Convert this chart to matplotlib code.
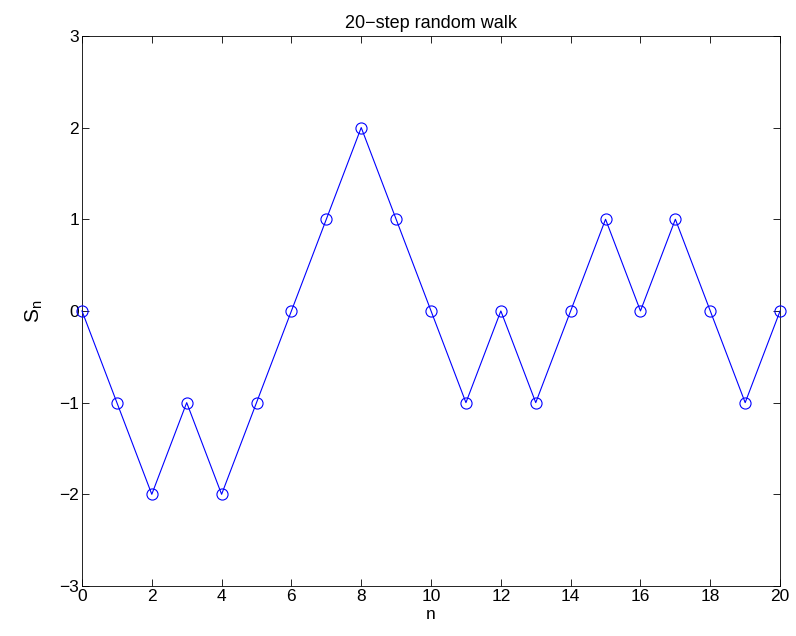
import numpy as np
import matplotlib
matplotlib.use('Agg')
from matplotlib import pyplot as plt

n = list(range(21))
s = [0, -1, -2, -1, -2, -1, 0, 1, 2, 1, 0, -1, 0, -1, 0, 1, 0, 1, 0, -1, 0]
xticks = list(range(0, 21, 2))
yticks = [-3, -2, -1, 0, 1, 2, 3]

plt.rcParams['font.family'] = ['Liberation Sans', 'DejaVu Sans']
fs = 12.5

fig = plt.figure(figsize=(7.96, 6.36), dpi=100)
ax = fig.add_axes([0.103, 0.0786, 0.877, 0.865])
ax.plot(n, s, color='#0000ff', lw=0.8, marker='o', ms=8, mfc='none',
        mec='#0000ff', mew=0.8, clip_on=False, zorder=3)
ax.set_xlim(0, 20)
ax.set_ylim(-3, 3)
ax.set_xticks(xticks)
ax.set_yticks(yticks)
ax.tick_params(direction='in', top=True, right=True, labelsize=fs, length=5, width=0.6, pad=2)
for sp in ax.spines.values():
    sp.set_linewidth(0.6)
ax.set_xlabel('n', fontsize=fs, labelpad=2)
ax.set_ylabel('S$_\\mathregular{n}$', fontsize=15, labelpad=10)
ax.set_title('20\u2212step random walk', fontsize=13, pad=6)
fig.savefig('out.png', dpi=100)
